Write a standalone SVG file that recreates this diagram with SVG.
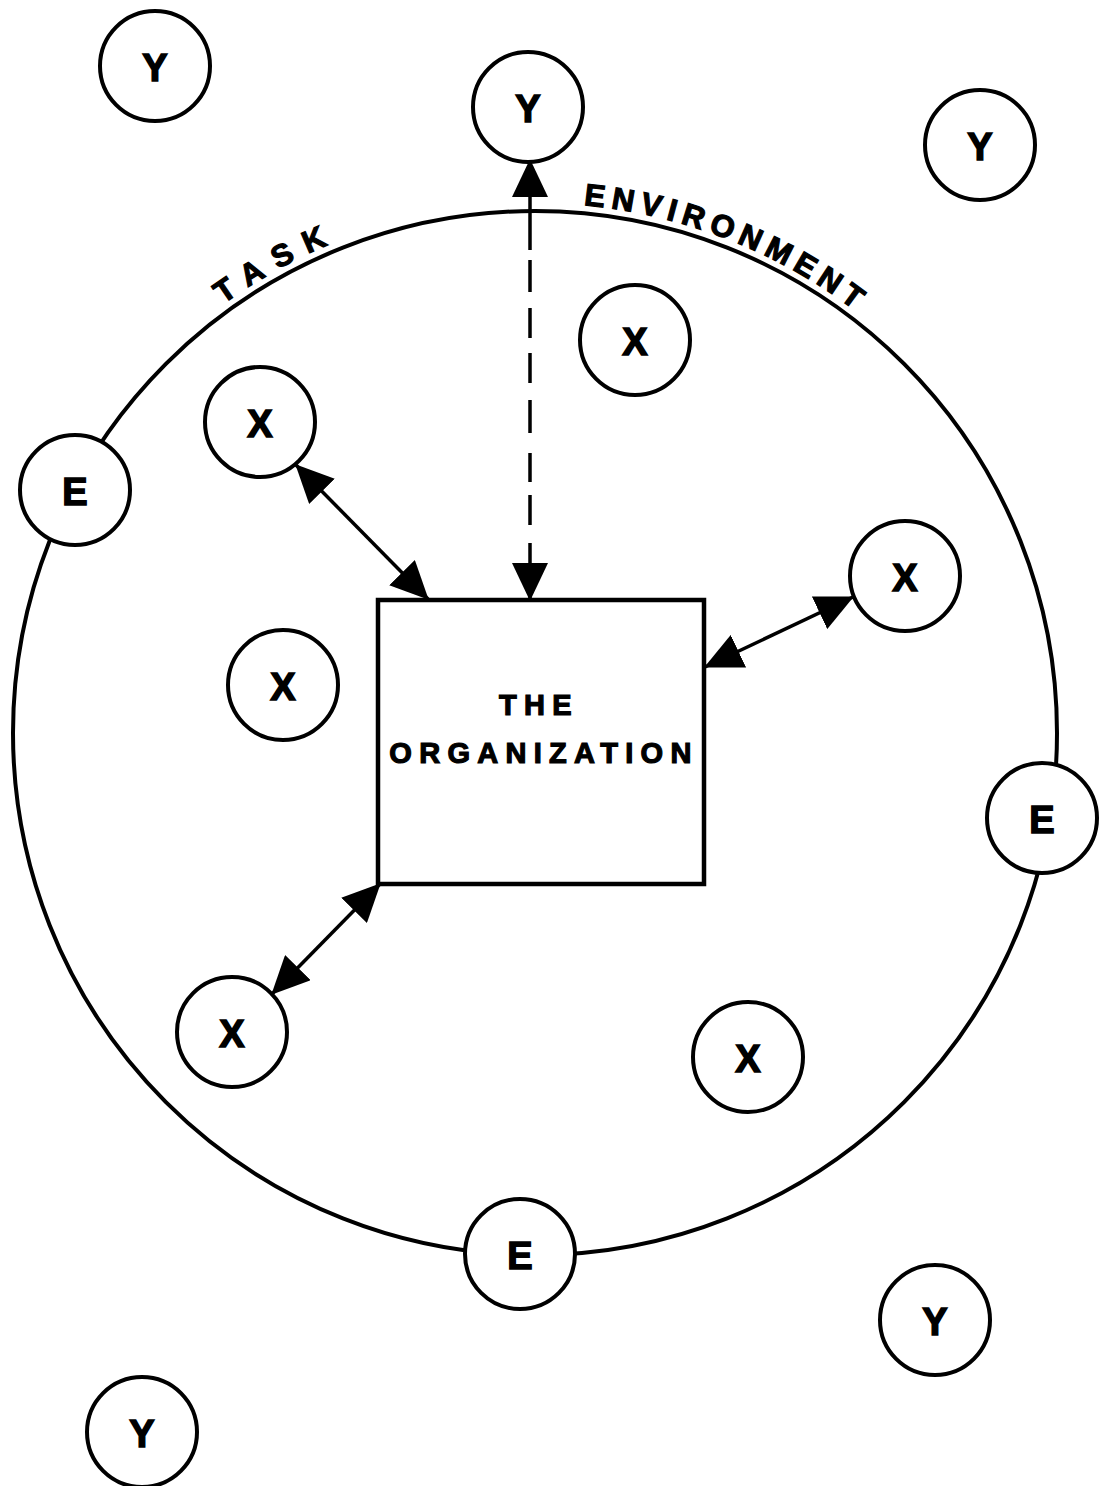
<svg xmlns="http://www.w3.org/2000/svg" width="1099" height="1486" viewBox="0 0 1099 1486">
<style>
.node circle{fill:#fff;stroke:#000;stroke-width:4}
.node text{font-family:"Liberation Sans",Arial,sans-serif;font-weight:bold;font-size:38px;text-anchor:middle;fill:#000;stroke:#000;stroke-width:1.5}
.lbl{font-family:"Liberation Sans",Arial,sans-serif;font-weight:bold;fill:#000;stroke:#000;stroke-width:1.2}
.conn{stroke:#000;stroke-width:3.5;fill:none;marker-start:url(#ah);marker-end:url(#ah)}
</style>
<defs>
<marker id="ah" viewBox="0 0 38 36" refX="37" refY="18" markerWidth="38" markerHeight="36" markerUnits="userSpaceOnUse" orient="auto-start-reverse">
<path d="M0,0 L38,18 L0,36 Z" fill="#000"/>
</marker>
<path id="arc" d="M5,733 A530 530 0 0 1 1065,733"/>
</defs>
<rect width="1099" height="1486" fill="#fff"/>
<g id="task-environment">
<circle cx="535" cy="733" r="522" fill="none" stroke="#000" stroke-width="4"/>
<text class="lbl" font-size="31" letter-spacing="13"><textPath href="#arc" startOffset="499">TASK</textPath></text>
<text class="lbl" font-size="31" letter-spacing="6.5"><textPath href="#arc" startOffset="881">ENVIRONMENT</textPath></text>
</g>
<g id="connectors">
<line class="conn" x1="296" y1="465" x2="428" y2="599"/>
<line class="conn" x1="705" y1="667" x2="853" y2="597"/>
<line class="conn" x1="380" y1="884" x2="272" y2="994"/>
<line class="conn" x1="530" y1="160" x2="530" y2="600" stroke-width="4.5" stroke-dasharray="90 10 32 16 30 15 30 17 33 20 29 13 30 18 60"/>
</g>
<g id="organization">
<rect x="378" y="600" width="326" height="284" fill="#fff" stroke="#000" stroke-width="4.5"/>
<text class="lbl" font-size="29" letter-spacing="7.3" x="539" y="715" text-anchor="middle">THE</text>
<text class="lbl" font-size="29" letter-spacing="7.3" x="544" y="763" text-anchor="middle">ORGANIZATION</text>
</g>
<g id="y1" class="node"><circle cx="155" cy="66" r="55"/><text x="155" y="81">Y</text></g>
<g id="y2" class="node"><circle cx="528" cy="107" r="55"/><text x="528" y="122">Y</text></g>
<g id="y3" class="node"><circle cx="980" cy="145" r="55"/><text x="980" y="160">Y</text></g>
<g id="x1" class="node"><circle cx="635" cy="340" r="55"/><text x="635" y="355">X</text></g>
<g id="x2" class="node"><circle cx="260" cy="422" r="55"/><text x="260" y="437">X</text></g>
<g id="e1" class="node"><circle cx="75" cy="490" r="55"/><text x="75" y="505">E</text></g>
<g id="x3" class="node"><circle cx="905" cy="576" r="55"/><text x="905" y="591">X</text></g>
<g id="x4" class="node"><circle cx="283" cy="685" r="55"/><text x="283" y="700">X</text></g>
<g id="e2" class="node"><circle cx="1042" cy="818" r="55"/><text x="1042" y="833">E</text></g>
<g id="x5" class="node"><circle cx="232" cy="1032" r="55"/><text x="232" y="1047">X</text></g>
<g id="x6" class="node"><circle cx="748" cy="1057" r="55"/><text x="748" y="1072">X</text></g>
<g id="e3" class="node"><circle cx="520" cy="1254" r="55"/><text x="520" y="1269">E</text></g>
<g id="y4" class="node"><circle cx="935" cy="1320" r="55"/><text x="935" y="1335">Y</text></g>
<g id="y5" class="node"><circle cx="142" cy="1432" r="55"/><text x="142" y="1447">Y</text></g>
</svg>
